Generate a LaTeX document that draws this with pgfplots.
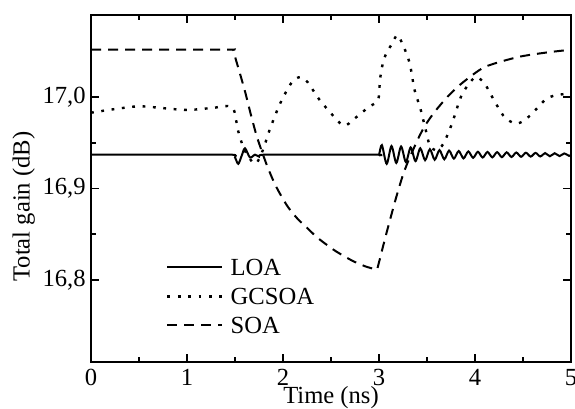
\documentclass[border=0pt]{standalone}
\usepackage{fontspec}
\setmainfont{Liberation Serif}
\usepackage{pgfplots}
\pgfplotsset{compat=1.18}

\begin{document}
\begin{tikzpicture}
\begin{axis}[
    width=240pt, height=173.5pt, scale only axis,
    xmin=0, xmax=5, ymin=16.71, ymax=17.09,
    xtick={0,1,2,3,4,5}, ytick={16.8,16.9,17.0},
    minor x tick num=1, minor y tick num=1,
    tick align=inside, major tick length=4pt, minor tick length=2.5pt,
    axis line style={line width=1pt},
    every tick/.style={black, line width=0.8pt},
    font=\fontsize{12.3}{14}\selectfont,
    /pgf/number format/assume math mode=true,
    y tick label style={/pgf/number format/use comma, /pgf/number format/fixed,
        /pgf/number format/fixed zerofill, /pgf/number format/precision=1},
    xticklabel style={anchor=base, yshift=-12pt},
    yticklabel style={anchor=east, inner sep=0pt, xshift=-2.5pt},
    xlabel={Time (ns)}, ylabel={Total gain (dB)},
    every axis x label/.style={at={(rel axis cs:0.5,0)}, anchor=base, yshift=-21pt},
    every axis y label/.style={at={(rel axis cs:-0.14,0.448)}, rotate=90, anchor=center},
    legend style={draw=none, fill=none, at={(rel axis cs:0.156,0.297)}, anchor=north west,
        inner sep=0pt, row sep=6.5pt, column sep=3.5pt,
        nodes={inner sep=0pt, text height=8pt, text depth=0pt, anchor=base west}},
    legend cell align=left,
    legend image code/.code={\draw[#1] (0pt,4pt) -- (27.5pt,4pt);},
]
\addplot[black, line width=1pt, smooth, tension=0.5] coordinates {
(0,16.937)(1.0,16.937)(1.47,16.937)(1.50,16.934)(1.534,16.927)(1.57,16.936)(1.604,16.944)
(1.656,16.934)(1.708,16.937)(1.75,16.935)(1.80,16.937)(2.3,16.937)(2.98,16.937)(3.00,16.937)
(3.03,16.9475)(3.08,16.927)(3.13,16.9465)(3.18,16.928)(3.23,16.946)(3.28,16.929)
(3.33,16.945)(3.38,16.930)(3.43,16.944)(3.48,16.931)(3.53,16.943)(3.58,16.9315)
(3.63,16.942)(3.68,16.932)(3.73,16.9415)(3.78,16.9327)(3.83,16.941)(3.88,16.933)
(3.93,16.9406)(3.98,16.9336)(4.03,16.9402)(4.08,16.9339)(4.13,16.940)(4.18,16.9341)
(4.23,16.9398)(4.28,16.9343)(4.33,16.9396)(4.38,16.9345)(4.43,16.9394)(4.48,16.9347)
(4.53,16.9392)(4.58,16.9349)(4.63,16.939)(4.68,16.9351)(4.73,16.9388)(4.78,16.9353)
(4.83,16.9386)(4.88,16.9355)(4.93,16.9384)(4.98,16.9357)(5.00,16.937)
};
\addplot[black, line width=1.2pt, dash pattern=on 1.4pt off 3.8pt, smooth, tension=0.5] coordinates {
(0,16.983)(0.25,16.987)(0.5,16.990)(0.75,16.988)(1.0,16.986)(1.25,16.988)(1.47,16.989)
(1.53,16.964)(1.60,16.942)(1.71,16.927)(1.79,16.942)(1.86,16.964)(1.97,16.993)(2.09,17.016)
(2.18,17.022)(2.26,17.016)(2.36,17.000)(2.47,16.986)(2.63,16.969)(2.75,16.977)(2.89,16.989)
(2.99,16.997)(3.01,17.019)(3.04,17.037)(3.08,17.049)(3.14,17.059)(3.19,17.068)(3.25,17.057)
(3.32,17.037)(3.37,17.008)(3.43,16.988)(3.48,16.967)(3.53,16.947)(3.60,16.942)(3.67,16.949)
(3.76,16.971)(3.86,17.002)(3.97,17.019)(4.02,17.022)(4.10,17.015)(4.18,17.000)(4.24,16.989)
(4.31,16.978)(4.42,16.971)(4.52,16.975)(4.63,16.986)(4.73,16.997)(4.83,17.002)(5.0,17.004)
};
\addplot[black, line width=1pt, dash pattern=on 5pt off 3.5pt, smooth, tension=0.4] coordinates {
(0,17.052)(1.0,17.052)(1.47,17.052)(1.48,17.052)(1.49,17.048)(1.54,17.030)(1.60,17.008)
(1.66,16.983)(1.73,16.956)(1.83,16.926)(1.91,16.906)(1.97,16.894)(2.05,16.880)(2.15,16.867)
(2.25,16.857)(2.36,16.846)(2.54,16.832)(2.72,16.821)(2.85,16.815)(2.96,16.8115)(2.98,16.811)
(2.99,16.815)(3.07,16.848)(3.17,16.887)(3.25,16.915)(3.32,16.934)(3.41,16.955)(3.48,16.969)
(3.58,16.984)(3.71,17.000)(3.86,17.015)(4.10,17.033)(4.45,17.044)(4.75,17.049)(5.0,17.052)
};
\legend{LOA,GCSOA,SOA}
\coordinate (bl) at (rel axis cs:0,0);
\coordinate (tr) at (rel axis cs:1,1);
\end{axis}
\pgfresetboundingbox
\path ([shift={(-45.5pt,-23.5pt)}]bl) rectangle ([shift={(2pt,7.5pt)}]tr);
\end{tikzpicture}
\end{document}
